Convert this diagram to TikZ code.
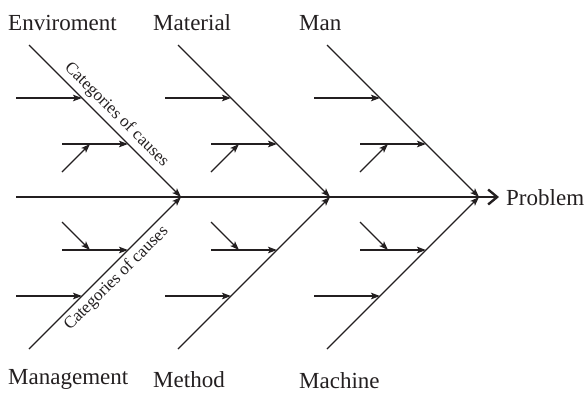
\documentclass[tikz,border=0pt]{standalone}
\usepackage{fontspec}
\setmainfont{Liberation Serif}
\usetikzlibrary{arrows.meta}
\definecolor{ink}{HTML}{231F20}
\begin{document}
\begin{tikzpicture}[x=1pt,y=-1pt, color=ink,
  tipx/.style={-{Stealth[length=9pt,width=6.5pt,inset=2pt]}},
  bone/.style={line width=1.1pt, tipx},
  sub/.style={line width=1.7pt, tipx},
  diag/.style={line width=1.2pt, tipx},
  spine/.style={line width=2.6pt, -{Straight Barb[length=9pt,width=15pt,line width=2.4pt]}},
  lab/.style={font=\fontsize{23}{27}\selectfont, inner sep=0pt, anchor=base west},
  cat/.style={font=\fontsize{17}{20}\selectfont, inner sep=0pt}
]
\useasboundingbox (0,0) rectangle (585,392);
% spine
\coordinate (s0) at (16,197);
\coordinate (s1) at (499,197);
\draw[spine] (s0) -- (s1);
\node[lab] (prob) at (506,205) {Problem};
% bones
\foreach \d/\n in {0/a,149/b,298/c}{
  \coordinate (T\n) at (29+\d,45);
  \coordinate (B\n) at (29+\d,349);
  \coordinate (E\n) at (181+\d,197);
  \draw[bone] (T\n) -- (E\n);
  \draw[bone] (B\n) -- (E\n);
  % upper sub arrows
  \coordinate (u1s\n) at (16+\d,98);
  \coordinate (u1e\n) at (82+\d,98);
  \coordinate (u2s\n) at (62+\d,144);
  \coordinate (u2e\n) at (128+\d,144);
  \coordinate (u3s\n) at (62+\d,172);
  \coordinate (u3e\n) at (90+\d,144);
  \draw[sub] (u1s\n) -- (u1e\n);
  \draw[sub] (u2s\n) -- (u2e\n);
  \draw[diag] (u3s\n) -- (u3e\n);
  % lower sub arrows
  \coordinate (l1s\n) at (16+\d,296);
  \coordinate (l1e\n) at (82+\d,296);
  \coordinate (l2s\n) at (62+\d,250);
  \coordinate (l2e\n) at (128+\d,250);
  \coordinate (l3s\n) at (62+\d,222);
  \coordinate (l3e\n) at (90+\d,250);
  \draw[sub] (l1s\n) -- (l1e\n);
  \draw[sub] (l2s\n) -- (l2e\n);
  \draw[diag] (l3s\n) -- (l3e\n);
}
% labels
\node[lab] (env) at (8,30) {Enviroment};
\node[lab] (mat) at (153,30) {Material};
\node[lab] (man) at (299,30) {Man};
\node[lab] (mgmt) at (8,384) {Management};
\node[lab] (meth) at (153,387) {Method};
\node[lab] (mach) at (299,388) {Machine};
\node[cat, rotate=-45] (cat1) at (116.5,115) {Categories of causes};
\node[cat, rotate=45] (cat2) at (116.5,278.5) {Categories of causes};
\end{tikzpicture}
\end{document}
